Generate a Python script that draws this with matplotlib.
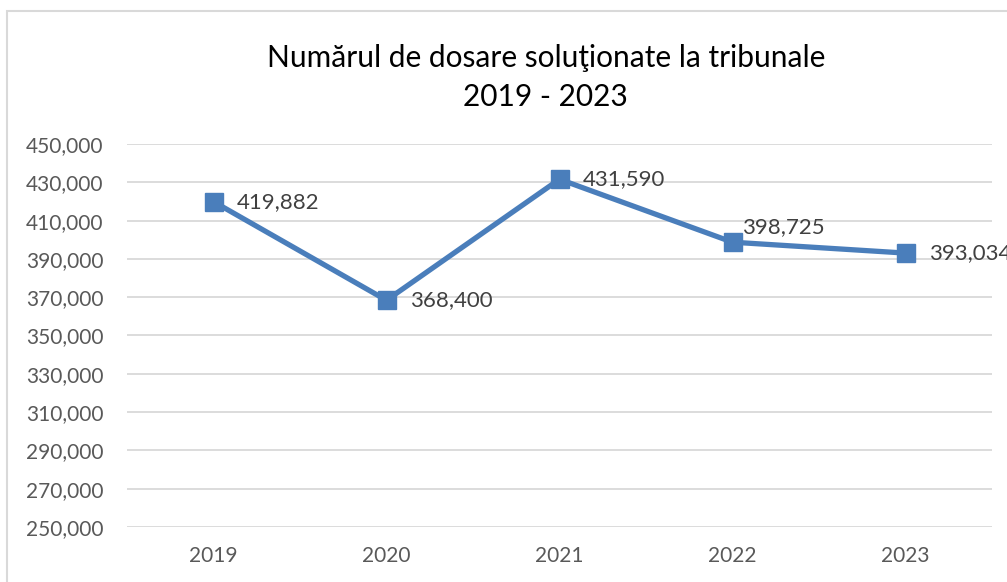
import matplotlib.pyplot as plt
from matplotlib.patches import Rectangle
from matplotlib.ticker import FuncFormatter

plt.rcParams['font.family'] = ['Lato', 'DejaVu Sans']

# dosare solutionate, pe ani
years = ['2019', '2020', '2021', '2022', '2023']
cases = [419882, 368400, 431590, 398725, 393034]

# where each value label sits relative to its marker (points)
label_offsets = [(17, 0), (17, 0), (17, 0), (7, 11), (17, 0)]

line_color = '#4a7ebb'

fig = plt.figure(figsize=(10.07, 5.82), dpi=100)
fig.patch.set_facecolor('white')

# chart frame (only left and top edges fall inside the image)
fig.patches.append(Rectangle((7 / 1007, -0.1), 1.2, 1 - 11 / 582 + 0.1,
                             transform=fig.transFigure, fill=False,
                             edgecolor='#d9d9d9', linewidth=1.5))

ax = fig.add_axes([127 / 1007, 1 - 527 / 582, 865 / 1007, 383 / 582])

x = range(len(years))
ax.plot(x, cases, color=line_color, linewidth=3.8, marker='s',
        markersize=13, clip_on=False, zorder=3)

for i, v in enumerate(cases):
    dx, dy = label_offsets[i]
    ax.annotate(f'{v:,}', (i, v), xytext=(dx, dy), textcoords='offset points',
                ha='left', va='center', fontsize=16, color='#404040',
                annotation_clip=False)

ax.set_xlim(-0.5, len(years) - 0.5)
ax.set_ylim(250000, 450000)
ax.set_yticks(range(250000, 450001, 20000))
ax.yaxis.set_major_formatter(FuncFormatter(lambda v, _: f'{int(v):,}'))
ax.set_xticks(list(x))
ax.set_xticklabels(years)

ax.grid(axis='y', color='#d9d9d9', linewidth=1.3)
ax.set_axisbelow(True)
for s in ax.spines.values():
    s.set_visible(False)
ax.tick_params(axis='both', length=0, labelsize=15, colors='#595959')
ax.tick_params(axis='y', pad=17)
ax.tick_params(axis='x', pad=14)

fig.text(0.542, 1 - 58 / 582, 'Numărul de dosare soluţionate la tribunale',
         ha='center', va='center', fontsize=21.5, color='#000000')
fig.text(0.542, 1 - 97 / 582, '2019 - 2023',
         ha='center', va='center', fontsize=21.5, color='#000000')

fig.savefig('out.png', dpi=100, facecolor='white')
